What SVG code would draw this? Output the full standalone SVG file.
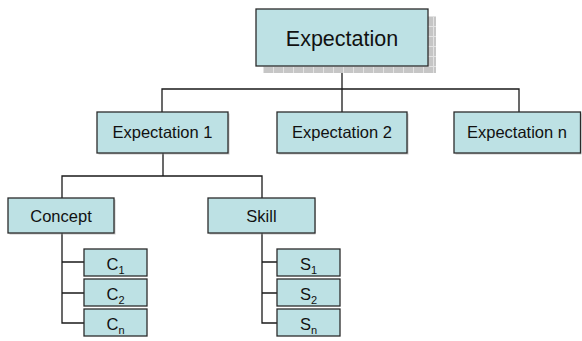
<svg xmlns="http://www.w3.org/2000/svg" width="582" height="341" viewBox="0 0 582 341">
  <style>
    .box { fill: #bde1e4; stroke: #2b2b2b; stroke-width: 1.3; }
    .sh { fill: #9a9a9a; opacity: 0.55; }
    .lbl { font-family: "Liberation Sans", Arial, sans-serif; font-size: 16.5px; fill: #111; text-anchor: middle; }
    .big { font-size: 21.5px; }
    .sub { font-size: 11px; }
    .conn { fill: none; stroke: #1a1a1a; stroke-width: 1.3; }
  </style>
  <defs>
    <pattern id="grid" x="263" y="16" width="10" height="10" patternUnits="userSpaceOnUse">
      <rect width="10" height="10" fill="#c6c6c6"/>
      <path d="M0 0.5H10M0.5 0V10" stroke="#e2e2e2" stroke-width="1"/>
    </pattern>
  </defs>
  <rect width="582" height="341" fill="#ffffff"/>

  <g id="connectors">
    <path class="conn" d="M342 66V89M162 112V89H519V112M342 89V112"/>
    <path class="conn" d="M163 153V176M62 198V176H262V198"/>
    <path class="conn" d="M62 233V323H84M62 262H84M62 293H84"/>
    <path class="conn" d="M262 233V323H277M262 262H277M262 293H277"/>
  </g>

  <g id="expectation">
    <rect x="263" y="16" width="173" height="57" fill="url(#grid)"/>
    <rect class="box" x="256" y="9" width="172" height="57"/>
    <text class="lbl big" x="342" y="46">Expectation</text>
  </g>

  <g id="expectation-1">
    <rect class="sh" x="98.5" y="113.5" width="131" height="41"/>
    <rect class="box" x="97" y="112" width="131" height="41"/>
    <text class="lbl" x="162.5" y="138">Expectation 1</text>
  </g>
  <g id="expectation-2">
    <rect class="sh" x="278.5" y="113.5" width="130" height="41"/>
    <rect class="box" x="277" y="112" width="130" height="41"/>
    <text class="lbl" x="342" y="138">Expectation 2</text>
  </g>
  <g id="expectation-n">
    <rect class="sh" x="455.5" y="113.5" width="126" height="41"/>
    <rect class="box" x="454" y="112" width="126.5" height="41"/>
    <text class="lbl" x="517" y="138">Expectation n</text>
  </g>

  <g id="concept">
    <rect class="sh" x="9.5" y="199.5" width="106" height="35"/>
    <rect class="box" x="8" y="198" width="106" height="35"/>
    <text class="lbl" x="61" y="222">Concept</text>
  </g>
  <g id="skill">
    <rect class="sh" x="209.5" y="199.5" width="106" height="35"/>
    <rect class="box" x="208" y="198" width="107" height="35"/>
    <text class="lbl" x="261.5" y="222">Skill</text>
  </g>

  <g id="c1">
    <rect class="box" x="84" y="249" width="63" height="27"/>
    <text class="lbl" x="115.5" y="270">C<tspan class="sub" dy="4">1</tspan></text>
  </g>
  <g id="c2">
    <rect class="box" x="84" y="279" width="63" height="27"/>
    <text class="lbl" x="115.5" y="300">C<tspan class="sub" dy="4">2</tspan></text>
  </g>
  <g id="cn">
    <rect class="box" x="84" y="309" width="63" height="27"/>
    <text class="lbl" x="115.5" y="330">C<tspan class="sub" dy="4">n</tspan></text>
  </g>

  <g id="s1">
    <rect class="box" x="277" y="249" width="63" height="27"/>
    <text class="lbl" x="308.5" y="270">S<tspan class="sub" dy="4">1</tspan></text>
  </g>
  <g id="s2">
    <rect class="box" x="277" y="279" width="63" height="27"/>
    <text class="lbl" x="308.5" y="300">S<tspan class="sub" dy="4">2</tspan></text>
  </g>
  <g id="sn">
    <rect class="box" x="277" y="309" width="63" height="27"/>
    <text class="lbl" x="308.5" y="330">S<tspan class="sub" dy="4">n</tspan></text>
  </g>
</svg>
